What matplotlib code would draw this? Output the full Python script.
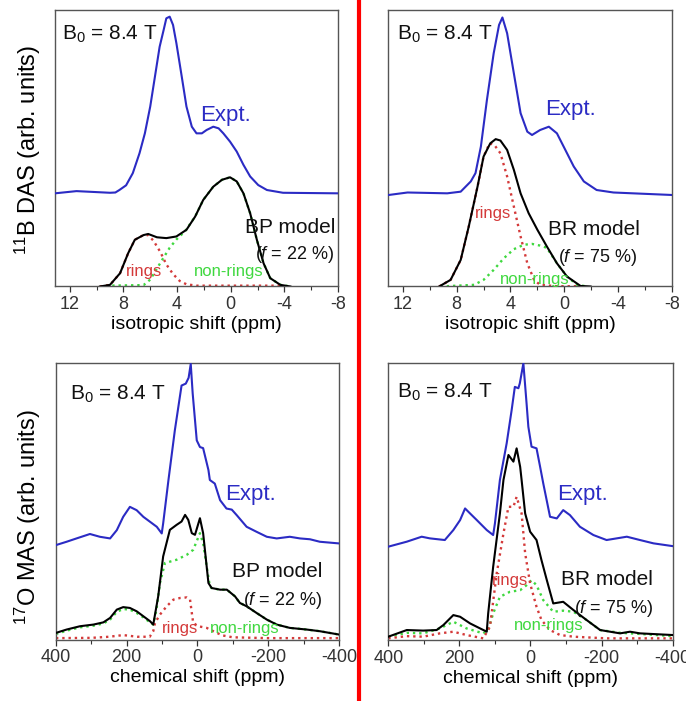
import matplotlib
matplotlib.use("Agg")
import matplotlib.pyplot as plt
from matplotlib.lines import Line2D
from matplotlib.ticker import MultipleLocator

plt.rcParams['font.family'] = ['Liberation Sans', 'DejaVu Sans']
plt.rcParams['mathtext.fontset'] = 'custom'
plt.rcParams['mathtext.rm'] = 'Liberation Sans'
plt.rcParams['mathtext.it'] = 'Liberation Sans:italic'
plt.rcParams['axes.unicode_minus'] = False

# ---- 11B DAS, BP model (top left) ----
tl_expt_ppm = [13.1, 11.5, 9.0, 8.6, 8.3, 7.8, 7.3, 6.8, 6.4, 6.0, 5.65, 5.3, 5.0, 4.8, 4.55, 4.3, 4.05, 3.65, 3.3,
               2.9, 2.55, 2.15, 1.8, 1.3, 0.9, 0.55, 0.05, -0.45, -0.95, -1.45, -2.05, -2.7, -3.9, -8.0]
tl_expt_int = [33.7, 34.5, 33.9, 34.0, 34.9, 36.6, 41.0, 48.2, 55.4, 65.1, 75.9, 86.7, 92.8, 97.0, 97.6, 94.6, 88.0,
               75.9, 65.1, 57.8, 55.4, 55.4, 56.6, 57.8, 57.2, 55.4, 52.4, 48.8, 44.0, 39.8, 36.7, 34.9, 33.9, 33.7]
tl_model_ppm = [9.75, 9.0, 8.25, 7.65, 7.15, 6.5, 6.15, 5.5, 4.8, 4.05, 3.3, 2.65, 2.05, 1.3, 0.65, 0.05, -0.45,
                -0.95, -1.45, -1.95, -2.45, -2.95, -3.7, -4.45]
tl_model_int = [0, 0.6, 4.8, 12.0, 16.9, 18.6, 19.0, 17.8, 17.5, 18.1, 20.5, 25.3, 31.3, 36.1, 38.6, 39.5, 38.0,
                33.7, 26.5, 16.9, 8.4, 3.0, 0.6, 0]
tl_rings_ppm = [9.75, 9.0, 8.25, 7.65, 7.15, 6.5, 6.15, 5.75, 5.25, 4.8, 4.3, 3.8, 3.3, 2.55, -3.9]
tl_rings_int = [0, 0.6, 4.8, 12.0, 16.9, 18.6, 18.6, 16.5, 12.5, 8.0, 4.5, 2.0, 0.8, 0.3, 0.3]
tl_non_ppm = [9.3, 6.5, 6.0, 5.5, 5.0, 4.55, 4.05, 3.4, 2.65, 2.05, 1.3, 0.65, 0.05, -0.45, -0.95, -1.45, -1.95,
              -2.45, -2.95, -3.7, -4.45]
tl_non_int = [0.3, 0.5, 2.5, 6.5, 10.5, 14.0, 17.0, 20.0, 25.3, 31.3, 36.1, 38.6, 39.5, 38.0, 33.7, 26.5, 16.9,
              8.4, 3.0, 0.6, 0]

# ---- 11B DAS, BR model (top right) ----
tr_expt_ppm = [13.05, 11.65, 8.7, 7.7, 6.95, 6.6, 6.2, 5.75, 5.25, 4.85, 4.6, 4.25, 3.75, 3.25, 2.75, 2.4, 1.8,
               1.15, 0.55, 0.05, -0.7, -1.45, -2.4, -3.65, -8.0]
tr_expt_int = [33.1, 34.0, 33.7, 34.3, 38.0, 41.0, 50.6, 67.5, 84.3, 94.6, 97.3, 91.6, 77.1, 62.7, 56.0, 54.8, 56.6,
               57.8, 55.4, 50.6, 43.4, 38.0, 34.9, 34.0, 33.1]
tr_model_ppm = [9.3, 8.45, 7.7, 7.1, 6.45, 6.0, 5.5, 5.1, 4.75, 4.25, 3.75, 3.25, 2.65, 2.0, 1.3, 0.55, -0.2,
                -1.2, -1.95]
tr_model_int = [0, 2.4, 9.6, 21.7, 36.1, 47.0, 51.8, 53.3, 52.8, 49.4, 42.2, 33.7, 26.5, 20.5, 14.5, 8.4, 3.6,
                0.2, 0]
tr_rings_ppm = [9.3, 8.45, 7.7, 7.1, 6.45, 6.0, 5.55, 5.2, 4.75, 4.25, 3.75, 3.25, 2.75, 2.25, 1.8, 0.55, -1.2]
tr_rings_int = [0, 2.4, 9.6, 21.7, 36.1, 47.0, 51.8, 51.2, 48.2, 39.8, 28.9, 18.1, 8.4, 2.4, 0.6, 0.1, 0.1]
tr_non_ppm = [9.2, 6.7, 6.0, 5.25, 4.5, 3.75, 3.0, 2.4, 1.8, 1.3, 0.55, -0.2, -0.95, -1.7]
tr_non_int = [0, 0.6, 2.4, 6.0, 10.2, 13.5, 15.1, 15.4, 14.8, 14.0, 8.4, 3.6, 0.6, 0]

# ---- 17O MAS, BP model (bottom left) ----
bl_expt_ppm = [400, 370, 342, 304, 276, 247, 228, 210, 191, 172, 153, 134, 115, 101, 97, 82, 64, 45, 33, 25, 19,
               13.5, 2, -7, -16, -31, -35, -49, -64, -82, -97, -111, -139, -167, -196, -224, -261, -290, -318,
               -346, -400]
bl_expt_int = [34.1, 35.3, 36.5, 38.1, 37.1, 36.5, 39.5, 44.3, 47.9, 46.7, 44.3, 42.5, 40.7, 38.3, 41.9, 57.6,
               75.5, 91.7, 92.4, 94.5, 99.5, 88.8, 71.9, 69.5, 69.1, 61.2, 57.6, 56.3, 50.3, 47.3, 46.9, 44.9,
               40.7, 38.9, 37.1, 36.5, 37.1, 36.5, 36.2, 35.3, 34.7]
bl_model_ppm = [400, 370, 332, 294, 266, 247, 228, 210, 191, 172, 153, 134, 125, 111, 97, 78, 59, 45, 35, 26, 16,
                7, -7, -16, -26, -31, -40, -64, -83, -106, -120, -139, -167, -196, -224, -261, -309, -346, -400]
bl_model_int = [2.4, 3.6, 4.8, 5.4, 6.2, 7.8, 10.8, 11.7, 11.4, 10.2, 8.4, 6.6, 5.4, 15.6, 30.0, 39.6, 41.4,
                42.6, 45.0, 43.2, 38.4, 37.8, 43.8, 38.4, 26.4, 20.4, 18.6, 18.0, 18.0, 15.6, 13.2, 12.0, 9.6,
                7.2, 5.4, 4.2, 3.6, 3.0, 1.8]
bl_rings_ppm = [400, 300, 250, 210, 170, 135, 125, 120, 106, 87, 68, 49, 30, 21, 16, 12, -2, -26, -45, -70,
                -100, -200, -400]
bl_rings_int = [0.5, 0.6, 1.0, 1.6, 1.0, 1.0, 3.0, 6.0, 9.0, 12.0, 14.4, 15.0, 15.2, 14.4, 9.6, 6.0, 4.8, 4.2,
                3.0, 1.5, 0.8, 0.5, 0.5]
bl_non_ppm = [400, 370, 332, 294, 266, 247, 228, 210, 191, 172, 153, 134, 125, 116, 106, 92, 59, 30, 12, -7,
              -16, -26, -35, -40, -64, -83, -106, -120, -139, -167, -196, -224, -261, -309, -346, -400]
bl_non_int = [2.0, 3.2, 4.4, 5.0, 5.8, 7.2, 10.0, 11.0, 10.8, 9.6, 8.0, 6.2, 5.4, 10.8, 20.4, 27.6, 28.8, 30.6,
              32.4, 38.4, 34.8, 26.4, 19.2, 18.6, 18.0, 18.0, 15.6, 13.2, 12.0, 9.6, 7.2, 5.4, 4.2, 3.6, 3.0, 1.8]

# ---- 17O MAS, BR model (bottom right) ----
br_expt_ppm = [400, 348, 306, 283, 241, 217, 198, 184, 170, 151, 123, 105, 100, 86, 67, 53, 44, 34, 30, 20, 11,
               6, -3, -17, -27, -36, -55, -74, -92, -111, -139, -177, -214, -271, -308, -346, -400]
br_expt_int = [33.7, 35.5, 37.3, 36.7, 36.1, 39.7, 43.3, 47.5, 45.7, 43.3, 39.7, 37.9, 42.1, 57.8, 71.0, 83.0,
               91.4, 90.9, 92.7, 99.9, 85.4, 77.0, 69.8, 69.2, 62.6, 56.5, 44.5, 43.9, 46.9, 45.1, 40.9, 37.9,
               36.1, 37.3, 36.1, 34.9, 33.9]
br_model_ppm = [400, 348, 302, 264, 245, 217, 198, 170, 142, 123, 119, 105, 86, 76, 62, 48, 39, 29, 25, 15, 1,
                -17, -31, -46, -64, -92, -121, -158, -196, -252, -280, -308, -400]
br_model_int = [1.2, 3.6, 3.4, 3.6, 5.4, 9.0, 8.4, 6.0, 4.2, 3.0, 9.6, 26.4, 45.7, 57.8, 66.8, 64.4, 69.2, 62.5,
                57.8, 45.7, 39.1, 36.1, 28.8, 21.6, 13.2, 13.8, 10.8, 7.2, 3.6, 2.4, 3.0, 2.4, 1.8]
br_rings_ppm = [400, 348, 302, 255, 217, 180, 133, 114, 95, 76, 62, 48, 39, 25, 15, 1, -17, -31, -55, -83, -121,
                -214, -400]
br_rings_int = [0.6, 1.4, 1.2, 2.4, 3.0, 1.8, 0.6, 4.8, 24.0, 38.5, 48.1, 48.1, 51.7, 45.7, 31.3, 20.4, 12.0,
                7.2, 3.6, 1.8, 1.2, 0.6, 0.6]
br_non_ppm = [400, 348, 302, 255, 217, 180, 133, 119, 105, 86, 58, 29, 11, -3, -17, -36, -64, -92, -121, -158,
              -196, -252, -308, -400]
br_non_int = [1.2, 2.6, 2.4, 4.2, 6.6, 4.2, 2.4, 3.6, 9.6, 15.6, 17.4, 18.0, 19.8, 21.6, 19.8, 14.4, 10.2, 10.6,
              10.2, 7.2, 3.6, 2.6, 2.2, 1.4]

blue = '#2b2bc4'
red = '#d43a3a'
green = '#3fd83f'
grey = '#555555'

fig = plt.figure(figsize=(6.86, 7.01), dpi=100)
ax_tl = fig.add_axes([0.0802, 0.5913, 0.4125, 0.3944])
ax_tr = fig.add_axes([0.5656, 0.5913, 0.4140, 0.3944])
ax_bl = fig.add_axes([0.0816, 0.0877, 0.4125, 0.3951])
ax_br = fig.add_axes([0.5660, 0.0870, 0.4146, 0.3951])


def draw(ax, expt, model, rings, non):
    ax.plot(non[0], non[1], ls=':', color=green, lw=1.7, zorder=2)
    ax.plot(rings[0], rings[1], ls=':', color=red, lw=1.7, zorder=2)
    ax.plot(model[0], model[1], color='black', lw=1.5, zorder=3)
    ax.plot(expt[0], expt[1], color=blue, lw=1.5, zorder=4)
    ax.set_ylim(0, 100)
    ax.set_yticks([])
    for s in ax.spines.values():
        s.set_color(grey)
        s.set_linewidth(1.0)
    ax.tick_params(axis='x', which='both', direction='out', top=False, colors='#333333',
                   labelsize=13, pad=3)
    ax.tick_params(axis='x', which='major', length=4, width=0.9)
    ax.tick_params(axis='x', which='minor', length=3, width=0.8)


draw(ax_tl, (tl_expt_ppm, tl_expt_int), (tl_model_ppm, tl_model_int),
     (tl_rings_ppm, tl_rings_int), (tl_non_ppm, tl_non_int))
draw(ax_tr, (tr_expt_ppm, tr_expt_int), (tr_model_ppm, tr_model_int),
     (tr_rings_ppm, tr_rings_int), (tr_non_ppm, tr_non_int))
draw(ax_bl, (bl_expt_ppm, bl_expt_int), (bl_model_ppm, bl_model_int),
     (bl_rings_ppm, bl_rings_int), (bl_non_ppm, bl_non_int))
draw(ax_br, (br_expt_ppm, br_expt_int), (br_model_ppm, br_model_int),
     (br_rings_ppm, br_rings_int), (br_non_ppm, br_non_int))

for ax in (ax_tl, ax_tr):
    ax.set_xlim(13.1, -8)
    ax.xaxis.set_major_locator(MultipleLocator(4))
    ax.xaxis.set_minor_locator(MultipleLocator(2))
    ax.set_xlabel('isotropic shift (ppm)', fontsize=14, labelpad=2)
for ax in (ax_bl, ax_br):
    ax.set_xlim(400, -400)
    ax.xaxis.set_major_locator(MultipleLocator(200))
    ax.xaxis.set_minor_locator(MultipleLocator(100))
    ax.set_xlabel('chemical shift (ppm)', fontsize=14, labelpad=2)

labels = [
    (ax_tl, 0.024, 0.891, 'BP model', 0.989, 0.193, '($\\it{f}$ = 22 %)', 0.989, 0.0995,
     0.512, 0.599, 0.313, 0.038, 0.613, 0.038),
    (ax_tr, 0.032, 0.891, 'BR model', 0.887, 0.186, '($\\it{f}$ = 75 %)', 0.877, 0.089,
     0.553, 0.62, 0.371, 0.248, 0.518, 0.01),
    (ax_bl, 0.049, 0.865, 'BP model', 0.943, 0.227, '($\\it{f}$ = 22 %)', 0.943, 0.125,
     0.597, 0.504, 0.438, 0.022, 0.666, 0.022),
    (ax_br, 0.03, 0.874, 'BR model', 0.932, 0.199, '($\\it{f}$ = 75 %)', 0.932, 0.097,
     0.594, 0.505, 0.428, 0.199, 0.564, 0.036),
]
for (ax, bx, by, mname, mx, my, fname, fx, fy, ex, ey, rx, ry, nx, ny) in labels:
    ax.text(bx, by, 'B$_0$ = 8.4 T', transform=ax.transAxes, fontsize=15, va='baseline', color='#111111')
    ax.text(ex, ey, 'Expt.', transform=ax.transAxes, fontsize=16, va='baseline', color=blue)
    ax.text(mx, my, mname, transform=ax.transAxes, fontsize=15, va='baseline', ha='right', color='#111111')
    ax.text(fx, fy, fname, transform=ax.transAxes, fontsize=13, va='baseline', ha='right', color='#111111')
    ax.text(rx, ry, 'rings', transform=ax.transAxes, fontsize=12, va='baseline', ha='center', color=red, zorder=5)
    ax.text(nx, ny, 'non-rings', transform=ax.transAxes, fontsize=12, va='baseline', ha='center', color=green,
            zorder=5)

fig.text(0.041, 0.786, '$^{11}$B DAS (arb. units)', rotation=90, ha='center', va='center', fontsize=17)
fig.text(0.041, 0.262, '$^{17}$O MAS (arb. units)', rotation=90, ha='center', va='center', fontsize=17)

fig.add_artist(Line2D([359 / 686, 359 / 686], [0, 1], color='#ff0000', lw=3.0, transform=fig.transFigure))

fig.savefig('out.png', dpi=100)
